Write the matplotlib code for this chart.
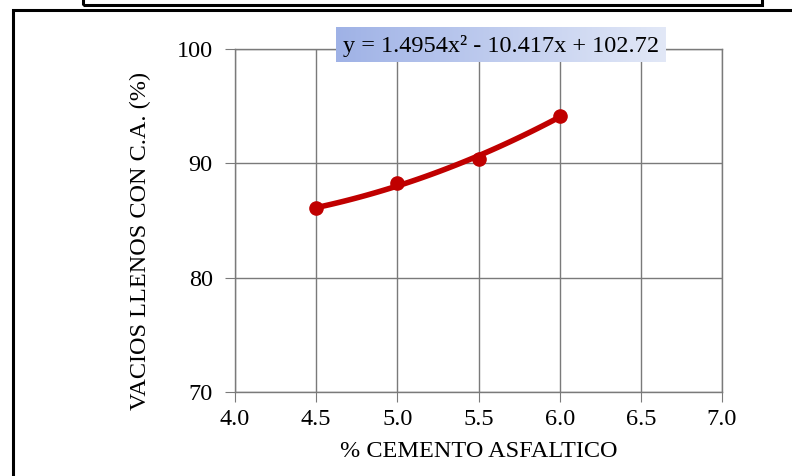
import numpy as np
import matplotlib.pyplot as plt
from matplotlib.patches import Rectangle

# % cemento asfaltico vs vacios llenos con C.A.
cemento = [4.5, 5.0, 5.5, 6.0]
vll = [86.1, 88.3, 90.4, 94.1]
coef = [1.4954, -10.417, 102.72]   # trendline polinomica (Excel)
eq_label = "y = 1.4954x\u00b2 - 10.417x + 102.72"

plt.rcParams['font.family'] = ['Liberation Serif', 'DejaVu Serif']
fs = 17.5

fig = plt.figure(figsize=(7.92, 4.76), dpi=100)
W, H = 792.0, 476.0

# marcos del documento
fig.patches.append(Rectangle((13 / W, -0.1), 1.2, 1 - 10 / H + 0.1, transform=fig.transFigure,
                             fill=False, edgecolor='black', linewidth=2.2))
fig.patches.append(Rectangle((83 / W, 1 - 5 / H), (762 - 83) / W, 0.2, transform=fig.transFigure,
                             fill=False, edgecolor='black', linewidth=2.2))

ax = fig.add_axes([235 / W, 1 - 392 / H, (722 - 235) / W, (392 - 49) / H])
gc = '#7a7a7a'
ax.grid(True, color=gc, linewidth=1.0)
ax.set_axisbelow(True)
for s in ax.spines.values():
    s.set_color(gc)
    s.set_linewidth(1.0)

xs = np.linspace(min(cemento), max(cemento), 100)
ax.plot(xs, np.polyval(coef, xs), color='#c00000', linewidth=4.0, solid_capstyle='round', zorder=3)
ax.plot(cemento, vll, 'o', color='#c00000', markersize=9.5, zorder=4)

ax.set_xlim(4.0, 7.0)
ax.set_ylim(70, 100)
ax.set_xticks(np.arange(4.0, 7.01, 0.5))
ax.set_xticklabels(["%.1f" % v for v in np.arange(4.0, 7.01, 0.5)])
ax.set_yticks([70, 80, 90, 100])
ax.tick_params(axis='both', direction='out', length=7, color=gc, labelsize=fs)
ax.tick_params(axis='y', pad=9)
ax.tick_params(axis='x', pad=5)
ax.set_xlabel('% CEMENTO ASFALTICO', fontsize=fs, labelpad=8)
ax.set_ylabel('VACIOS LLENOS CON C.A. (%)', fontsize=fs)
ax.yaxis.set_label_coords(-0.172, 0.44)

# caja de la ecuacion con degradado azul
bx = fig.add_axes([336 / W, 1 - 62 / H, (666 - 336) / W, (62 - 27) / H])
grad = np.linspace(0, 1, 256).reshape(1, -1)
c0 = np.array([0x9f, 0xb2, 0xe6]) / 255.0
c1 = np.array([0xe2, 0xe8, 0xf7]) / 255.0
img = c0[None, None, :] * (1 - grad[..., None]) + c1[None, None, :] * grad[..., None]
bx.imshow(img, aspect='auto', extent=[0, 1, 0, 1])
bx.set_axis_off()
bx.text(0.5, 0.45, eq_label, fontsize=fs, ha='center', va='center', transform=bx.transAxes)

fig.savefig('out.png', dpi=100)
